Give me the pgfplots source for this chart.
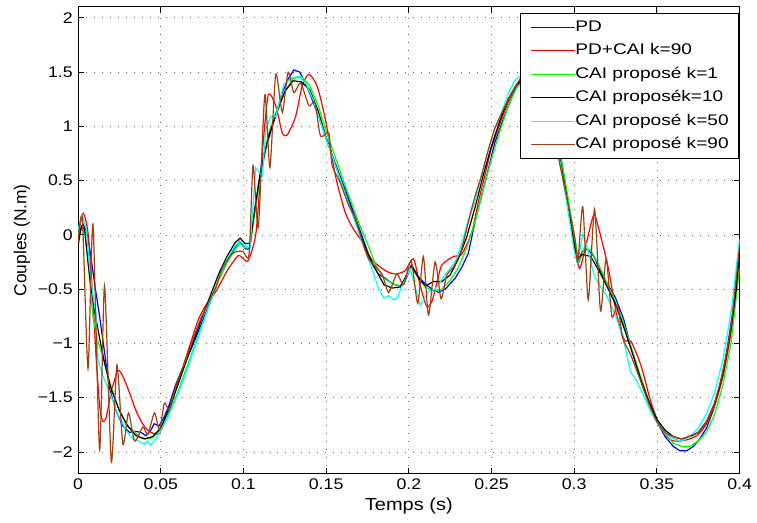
\documentclass[border=0pt]{standalone}
\usepackage{fontspec}
\setmainfont{Liberation Sans}
\newfontfamily\widefont{Liberation Sans}[FakeStretch=1.15]
\newfontfamily\widerfont{Liberation Sans}[FakeStretch=1.24]
\usepackage{pgfplots}
\pgfplotsset{compat=1.18}
\definecolor{mbrown}{RGB}{160,64,16}
\definecolor{mgreen}{RGB}{0,255,0}
\definecolor{mcyan}{RGB}{0,255,255}
\begin{document}
\fontsize{15.5}{18}\selectfont
\begin{tikzpicture}
\path (-78.3bp,-49bp) rectangle (678.7bp,475bp);
\begin{axis}[
  scale only axis, width=663.4bp, height=468bp,
  at={(0,0)}, anchor=south west,
  xmin=0, xmax=0.4, ymin=-2.2, ymax=2.1,
  xtick={0,0.05,0.1,0.15,0.2,0.25,0.3,0.35,0.4},
  xticklabels={0,0.05,0.1,0.15,0.2,0.25,0.3,0.35,0.4},
  ytick={-2,-1.5,-1,-0.5,0,0.5,1,1.5,2},
  yticklabels={−2,−1.5,−1,−0.5,0,0.5,1,1.5,2},
  xtick pos=both, ytick pos=both, tick align=inside,
  major tick length=6bp,
  tick style={black, line width=0.8bp},
  grid=major,
  grid style={black!60, line width=0.7bp, dash pattern=on 1bp off 7bp},
  axis line style={line width=1bp},
  tick label style={font=\widefont\fontsize{15.5}{18}\selectfont},
  xlabel={Temps (s)}, ylabel={Couples (N.m)},
  every axis x label/.style={at={(axis description cs:0.5,-0.0684)}, anchor=center, font=\widefont\fontsize{17.5}{20}\selectfont},
  every axis y label/.style={at={(axis description cs:-0.0849,0.5)}, anchor=center, rotate=90, font=\fontsize{17.5}{20}\selectfont},
  every axis plot/.append style={line width=1.2bp},
  legend cell align=left,
  legend image code/.code={\draw[#1, line width=1.2bp] (0bp,0bp) -- (44bp,0bp);},
  legend style={at={(rel axis cs:0.9985,0.9865)}, anchor=north east, draw=black, line width=0.8bp,
    font=\widerfont\fontsize{15.5}{18}\selectfont, inner xsep=9.5bp, inner ysep=6.5bp, row sep=9.6bp,
    nodes={text height=11bp, text depth=3bp, inner sep=0bp},
    /tikz/every even column/.append style={column sep=5.3bp}},
]
% PD
\addplot[blue] coordinates {(0,0.0)(0.003,0.10)(0.005,0.04)(0.007,-0.12)(0.010,-0.45)(0.013,-0.75)(0.016,-1.08)(0.019,-1.42)(0.023,-1.62)(0.027,-1.76)(0.031,-1.82)(0.035,-1.81)(0.038,-1.82)(0.041,-1.85)(0.044,-1.80)(0.046,-1.74)(0.049,-1.76)(0.052,-1.68)(0.055,-1.57)(0.059,-1.38)(0.064,-1.20)(0.069,-1.03)(0.074,-0.84)(0.079,-0.65)(0.084,-0.45)(0.089,-0.28)(0.094,-0.14)(0.0975,-0.06)(0.1015,-0.13)(0.1035,-0.13)(0.1075,0.30)(0.1115,0.70)(0.1175,1.00)(0.1235,1.31)(0.1275,1.45)(0.1305,1.52)(0.134,1.50)(0.1375,1.40)(0.1415,1.25)(0.1455,1.09)(0.1515,0.82)(0.1565,0.62)(0.1615,0.42)(0.1665,0.21)(0.1715,0.0)(0.1775,-0.26)(0.1815,-0.36)(0.1858,-0.40)(0.190,-0.45)(0.1938,-0.47)(0.197,-0.45)(0.2018,-0.28)(0.2055,-0.38)(0.2099,-0.45)(0.214,-0.50)(0.2179,-0.53)(0.222,-0.50)(0.228,-0.40)(0.232,-0.30)(0.236,-0.17)(0.240,0.12)(0.244,0.36)(0.248,0.60)(0.252,0.85)(0.256,1.02)(0.260,1.18)(0.264,1.33)(0.270,1.47)(0.275,1.52)(0.280,1.46)(0.285,1.24)(0.290,0.86)(0.295,0.42)(0.299,0.0)(0.302,-0.25)(0.305,-0.15)(0.308,-0.13)(0.312,-0.20)(0.316,-0.34)(0.320,-0.45)(0.325,-0.58)(0.330,-0.78)(0.334,-1.02)(0.338,-1.22)(0.342,-1.42)(0.346,-1.58)(0.350,-1.72)(0.355,-1.86)(0.360,-1.95)(0.364,-1.99)(0.368,-1.99)(0.372,-1.95)(0.376,-1.88)(0.380,-1.78)(0.384,-1.62)(0.388,-1.40)(0.392,-1.10)(0.396,-0.70)(0.400,-0.18)};
\addlegendentry{PD}
% PD+CAI k=90
\addplot[red, smooth, tension=0.4] coordinates {(0,0.0)(0.003,0.20)(0.006,0.02)(0.009,-0.60)(0.011,-1.15)(0.0132,-1.60)(0.015,-1.72)(0.017,-1.68)(0.020,-1.45)(0.024,-1.25)(0.027,-1.30)(0.031,-1.45)(0.035,-1.62)(0.039,-1.74)(0.043,-1.81)(0.049,-1.83)(0.055,-1.63)(0.060,-1.38)(0.065,-1.14)(0.069,-0.95)(0.073,-0.77)(0.078,-0.63)(0.083,-0.53)(0.087,-0.42)(0.091,-0.31)(0.097,-0.19)(0.1014,-0.24)(0.1034,-0.22)(0.1076,0.02)(0.1116,0.79)(0.115,1.29)(0.1195,1.19)(0.1235,0.94)(0.1265,0.92)(0.1315,1.09)(0.1355,1.37)(0.1396,1.48)(0.1446,1.37)(0.1496,1.06)(0.1557,0.54)(0.1617,0.20)(0.1667,0.05)(0.1717,-0.06)(0.1777,-0.23)(0.1858,-0.33)(0.1918,-0.36)(0.1978,-0.33)(0.2028,-0.22)(0.2069,-0.47)(0.2108,-0.66)(0.2138,-0.62)(0.2169,-0.45)(0.2199,-0.28)(0.2269,-0.20)(0.2319,-0.18)(0.238,0.02)(0.242,0.30)(0.246,0.55)(0.250,0.80)(0.255,1.02)(0.260,1.22)(0.265,1.38)(0.270,1.47)(0.275,1.50)(0.280,1.44)(0.285,1.24)(0.290,0.85)(0.295,0.40)(0.300,-0.05)(0.3032,-0.31)(0.307,-0.10)(0.3112,0.16)(0.3132,0.15)(0.3203,-0.28)(0.3253,-0.71)(0.3303,-0.97)(0.3343,-0.98)(0.3403,-1.20)(0.3464,-1.54)(0.3524,-1.78)(0.3584,-1.89)(0.364,-1.90)(0.370,-1.88)(0.375,-1.84)(0.380,-1.74)(0.385,-1.57)(0.390,-1.30)(0.395,-0.88)(0.400,-0.20)};
\addlegendentry{PD+CAI k=90}
% CAI k=1
\addplot[mgreen] coordinates {(0,0.02)(0.002,0.05)(0.004,0.03)(0.006,-0.25)(0.009,-0.76)(0.012,-0.98)(0.015,-1.12)(0.019,-1.35)(0.024,-1.58)(0.029,-1.75)(0.033,-1.80)(0.037,-1.86)(0.041,-1.88)(0.045,-1.87)(0.050,-1.79)(0.055,-1.64)(0.060,-1.46)(0.065,-1.25)(0.070,-1.04)(0.075,-0.83)(0.080,-0.62)(0.085,-0.42)(0.090,-0.26)(0.095,-0.13)(0.098,-0.08)(0.101,-0.12)(0.104,-0.12)(0.107,0.22)(0.110,0.50)(0.115,0.92)(0.120,1.15)(0.125,1.32)(0.130,1.44)(0.135,1.46)(0.140,1.38)(0.145,1.20)(0.150,0.96)(0.155,0.74)(0.160,0.52)(0.165,0.31)(0.170,0.10)(0.175,-0.08)(0.180,-0.28)(0.185,-0.40)(0.190,-0.45)(0.195,-0.47)(0.2015,-0.30)(0.206,-0.40)(0.210,-0.48)(0.215,-0.52)(0.220,-0.50)(0.225,-0.42)(0.230,-0.30)(0.235,-0.12)(0.240,0.12)(0.245,0.42)(0.250,0.70)(0.255,0.95)(0.260,1.18)(0.265,1.35)(0.270,1.45)(0.275,1.50)(0.280,1.45)(0.285,1.25)(0.290,0.90)(0.295,0.46)(0.300,0.0)(0.303,-0.25)(0.306,-0.12)(0.310,-0.14)(0.315,-0.28)(0.320,-0.45)(0.325,-0.62)(0.330,-0.82)(0.335,-1.06)(0.340,-1.30)(0.345,-1.52)(0.350,-1.70)(0.355,-1.83)(0.360,-1.92)(0.365,-1.95)(0.370,-1.95)(0.375,-1.90)(0.380,-1.82)(0.385,-1.65)(0.390,-1.38)(0.395,-0.98)(0.400,-0.30)};
\addlegendentry{CAI proposé k=1}
% CAI k=10
\addplot[black] coordinates {(0,-0.10)(0.002,0.08)(0.004,0.05)(0.006,-0.25)(0.008,-0.50)(0.010,-0.70)(0.013,-0.95)(0.016,-1.18)(0.020,-1.42)(0.025,-1.62)(0.030,-1.76)(0.035,-1.85)(0.040,-1.88)(0.045,-1.86)(0.050,-1.78)(0.055,-1.60)(0.060,-1.40)(0.065,-1.18)(0.070,-0.97)(0.075,-0.76)(0.080,-0.56)(0.085,-0.36)(0.090,-0.20)(0.095,-0.07)(0.098,-0.03)(0.101,-0.08)(0.104,-0.08)(0.107,0.25)(0.110,0.55)(0.115,0.90)(0.120,1.12)(0.125,1.32)(0.130,1.42)(0.135,1.41)(0.140,1.34)(0.145,1.15)(0.150,0.90)(0.155,0.67)(0.160,0.45)(0.165,0.24)(0.170,0.03)(0.175,-0.17)(0.180,-0.32)(0.185,-0.46)(0.190,-0.49)(0.195,-0.48)(0.2015,-0.28)(0.206,-0.40)(0.210,-0.47)(0.215,-0.43)(0.220,-0.43)(0.225,-0.37)(0.230,-0.22)(0.235,-0.02)(0.240,0.25)(0.245,0.55)(0.250,0.82)(0.255,1.05)(0.260,1.25)(0.265,1.38)(0.270,1.45)(0.275,1.47)(0.280,1.40)(0.285,1.18)(0.290,0.80)(0.295,0.38)(0.300,-0.10)(0.302,-0.22)(0.305,-0.18)(0.310,-0.20)(0.315,-0.33)(0.320,-0.48)(0.325,-0.64)(0.330,-0.85)(0.335,-1.08)(0.340,-1.32)(0.345,-1.53)(0.350,-1.70)(0.355,-1.80)(0.360,-1.86)(0.365,-1.88)(0.370,-1.86)(0.375,-1.82)(0.380,-1.72)(0.385,-1.55)(0.390,-1.28)(0.395,-0.85)(0.398,-0.50)(0.400,-0.15)};
\addlegendentry{CAI proposék=10}
% CAI k=50
\addplot[mcyan] coordinates {(0,0.05)(0.0025,0.18)(0.005,0.05)(0.007,-0.30)(0.009,-0.56)(0.011,-0.75)(0.012,-1.15)(0.015,-1.30)(0.019,-1.45)(0.024,-1.65)(0.029,-1.80)(0.033,-1.88)(0.037,-1.90)(0.040,-1.93)(0.042,-1.90)(0.044,-1.94)(0.047,-1.88)(0.050,-1.80)(0.055,-1.66)(0.060,-1.48)(0.065,-1.28)(0.070,-1.06)(0.075,-0.84)(0.080,-0.62)(0.085,-0.40)(0.090,-0.22)(0.095,-0.10)(0.098,-0.06)(0.101,-0.10)(0.104,-0.12)(0.1074,0.62)(0.1114,0.54)(0.1135,0.97)(0.1165,1.09)(0.1195,1.09)(0.1245,1.39)(0.1296,1.45)(0.1336,1.46)(0.1376,1.40)(0.142,1.25)(0.147,1.02)(0.152,0.80)(0.157,0.58)(0.162,0.36)(0.167,0.14)(0.172,-0.08)(0.177,-0.28)(0.1817,-0.50)(0.1850,-0.58)(0.1880,-0.56)(0.1910,-0.60)(0.1935,-0.57)(0.1950,-0.50)(0.2008,-0.31)(0.2069,-0.65)(0.2119,-0.52)(0.2159,-0.50)(0.2219,-0.37)(0.228,-0.25)(0.232,-0.08)(0.236,0.14)(0.240,0.30)(0.244,0.55)(0.248,0.78)(0.252,0.98)(0.256,1.12)(0.260,1.30)(0.264,1.42)(0.270,1.50)(0.275,1.50)(0.280,1.42)(0.285,1.20)(0.290,0.80)(0.295,0.35)(0.300,-0.15)(0.302,-0.27)(0.3052,0.01)(0.308,-0.12)(0.3122,-0.38)(0.316,-0.48)(0.3193,-0.55)(0.325,-0.74)(0.330,-0.98)(0.334,-1.26)(0.338,-1.35)(0.342,-1.48)(0.346,-1.62)(0.350,-1.73)(0.355,-1.83)(0.360,-1.88)(0.365,-1.90)(0.370,-1.86)(0.375,-1.78)(0.380,-1.65)(0.385,-1.45)(0.390,-1.15)(0.395,-0.70)(0.400,-0.04)};
\addlegendentry{CAI proposé k=50}
% CAI k=90
\addplot[mbrown, smooth, tension=0.4] coordinates {(0,-0.07)(0.0026,0.15)(0.006,-1.23)(0.009,0.10)(0.013,-1.98)(0.016,-0.47)(0.0201,-2.09)(0.0235,-1.20)(0.0271,-1.93)(0.0305,-1.64)(0.0342,-1.90)(0.0392,-1.77)(0.0422,-1.84)(0.0462,-1.64)(0.0492,-1.80)(0.0522,-1.55)(0.0552,-1.61)(0.0593,-1.38)(0.064,-1.20)(0.069,-0.98)(0.074,-0.78)(0.079,-0.62)(0.0834,-0.48)(0.0874,-0.30)(0.0934,-0.17)(0.0994,-0.15)(0.1034,-0.18)(0.1058,0.64)(0.109,0.07)(0.1129,1.29)(0.116,0.62)(0.1195,1.48)(0.1235,1.13)(0.127,1.50)(0.1305,1.31)(0.1346,1.40)(0.1396,1.19)(0.1432,1.22)(0.1466,0.91)(0.1516,0.94)(0.1536,0.64)(0.158,0.50)(0.1637,0.27)(0.1677,0.15)(0.1717,-0.05)(0.1757,-0.22)(0.1837,-0.36)(0.1878,-0.53)(0.1928,-0.36)(0.1968,-0.46)(0.2014,-0.24)(0.2054,-0.63)(0.2088,-0.20)(0.2119,-0.74)(0.2159,-0.25)(0.2195,-0.59)(0.2229,-0.37)(0.2269,-0.30)(0.2319,-0.13)(0.239,0.30)(0.244,0.55)(0.248,0.78)(0.252,0.98)(0.257,1.15)(0.262,1.30)(0.268,1.45)(0.274,1.50)(0.279,1.42)(0.284,1.20)(0.289,0.82)(0.2932,0.51)(0.3002,-0.01)(0.3022,-0.25)(0.3052,0.26)(0.3085,-0.60)(0.3123,0.24)(0.3159,-0.70)(0.3193,-0.22)(0.3228,-0.75)(0.3263,-0.65)(0.3293,-0.95)(0.334,-1.10)(0.340,-1.34)(0.345,-1.55)(0.350,-1.72)(0.355,-1.82)(0.360,-1.86)(0.365,-1.88)(0.370,-1.85)(0.375,-1.82)(0.380,-1.72)(0.385,-1.54)(0.390,-1.25)(0.395,-0.82)(0.400,-0.10)};
\addlegendentry{CAI proposé k=90}
\end{axis}
\end{tikzpicture}
\end{document}
